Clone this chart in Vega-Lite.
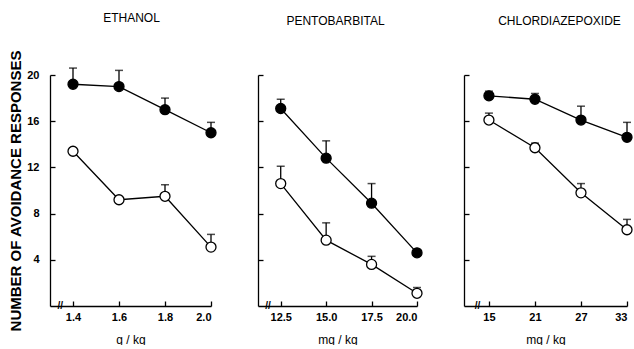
{
  "$schema": "https://vega.github.io/schema/vega-lite/v6.json",
  "padding": {"left": 8, "top": 11, "right": 0, "bottom": 0},
  "background": "white",
  "spacing": 47,
  "bounds": "flush",
  "config": {
    "view": {"stroke": null},
    "font": "Liberation Sans",
    "axis": {"domainColor": "black", "tickColor": "black", "labelColor": "black", "titleColor": "black", "grid": false, "tickSize": -5, "domainWidth": 1.3, "tickWidth": 1.3, "labelFont": "Liberation Sans", "labelFontWeight": "bold", "labelFontSize": 11, "titleFont": "Liberation Sans", "titleFontWeight": "normal"},
    "title": {"font": "Liberation Sans", "fontSize": 12, "fontWeight": "normal", "color": "black", "offset": 46, "frame": "group"}
  },
  "datasets": {
    "pts": [
      {"drug": "ETHANOL", "dose": 1.4, "group": "filled", "mean": 19.2, "err": 20.6},
      {"drug": "ETHANOL", "dose": 1.6, "group": "filled", "mean": 19.0, "err": 20.4},
      {"drug": "ETHANOL", "dose": 1.8, "group": "filled", "mean": 17.0, "err": 18.0},
      {"drug": "ETHANOL", "dose": 2.0, "group": "filled", "mean": 15.0, "err": 15.9},
      {"drug": "ETHANOL", "dose": 1.4, "group": "open", "mean": 13.4, "err": null},
      {"drug": "ETHANOL", "dose": 1.6, "group": "open", "mean": 9.2, "err": null},
      {"drug": "ETHANOL", "dose": 1.8, "group": "open", "mean": 9.5, "err": 10.5},
      {"drug": "ETHANOL", "dose": 2.0, "group": "open", "mean": 5.1, "err": 6.2},
      {"drug": "PENTOBARBITAL", "dose": 12.5, "group": "filled", "mean": 17.1, "err": 17.9},
      {"drug": "PENTOBARBITAL", "dose": 15.0, "group": "filled", "mean": 12.8, "err": 14.3},
      {"drug": "PENTOBARBITAL", "dose": 17.5, "group": "filled", "mean": 8.9, "err": 10.6},
      {"drug": "PENTOBARBITAL", "dose": 20.0, "group": "filled", "mean": 4.6, "err": null},
      {"drug": "PENTOBARBITAL", "dose": 12.5, "group": "open", "mean": 10.6, "err": 12.1},
      {"drug": "PENTOBARBITAL", "dose": 15.0, "group": "open", "mean": 5.7, "err": 7.2},
      {"drug": "PENTOBARBITAL", "dose": 17.5, "group": "open", "mean": 3.6, "err": 4.3},
      {"drug": "PENTOBARBITAL", "dose": 20.0, "group": "open", "mean": 1.1, "err": 1.6},
      {"drug": "CHLORDIAZEPOXIDE", "dose": 15, "group": "filled", "mean": 18.2, "err": 18.6},
      {"drug": "CHLORDIAZEPOXIDE", "dose": 21, "group": "filled", "mean": 17.9, "err": 18.4},
      {"drug": "CHLORDIAZEPOXIDE", "dose": 27, "group": "filled", "mean": 16.1, "err": 17.3},
      {"drug": "CHLORDIAZEPOXIDE", "dose": 33, "group": "filled", "mean": 14.6, "err": 15.9},
      {"drug": "CHLORDIAZEPOXIDE", "dose": 15, "group": "open", "mean": 16.1, "err": 16.7},
      {"drug": "CHLORDIAZEPOXIDE", "dose": 21, "group": "open", "mean": 13.7, "err": 14.1},
      {"drug": "CHLORDIAZEPOXIDE", "dose": 27, "group": "open", "mean": 9.8, "err": 10.6},
      {"drug": "CHLORDIAZEPOXIDE", "dose": 33, "group": "open", "mean": 6.6, "err": 7.5}
    ],
    "breaks": [
      {"drug": "ETHANOL", "pos": 1.345, "level": 0},
      {"drug": "PENTOBARBITAL", "pos": 11.8, "level": 0},
      {"drug": "CHLORDIAZEPOXIDE", "pos": 13.5, "level": 0}
    ]
  },
  "hconcat": [
    {
      "width": 161, "height": 231,
      "title": {"text": "ETHANOL", "dx": 1, "offset": 25},
      "layer": [
        {"data": {"name": "pts"}, "transform": [{"filter": "datum.drug === 'ETHANOL'"}],
         "mark": {"type": "line", "color": "black", "strokeWidth": 1.3},
         "encoding": {
           "x": {"field": "dose", "type": "quantitative", "scale": {"domain": [1.3, 2.0], "nice": false, "zero": false},
                 "axis": {"values": [1.4, 1.6, 1.8, 2.0], "format": ".1f", "title": "g / kg", "titleFontSize": 12, "titlePadding": 12, "labelPadding": 10}},
           "y": {"field": "mean", "type": "quantitative", "scale": {"domain": [0, 20], "nice": false},
                 "axis": {"values": [4, 8, 12, 16, 20], "title": "NUMBER OF AVOIDANCE RESPONSES", "titleFontSize": 15, "titleFontWeight": "bold", "titlePadding": 3, "labelPadding": 16}},
           "detail": {"field": "group"}
         }},
        {"data": {"name": "pts"}, "transform": [{"filter": "datum.drug === 'ETHANOL' && datum.err != null"}],
         "mark": {"type": "rule", "color": "black", "strokeWidth": 1.3},
         "encoding": {"x": {"field": "dose", "type": "quantitative"}, "y": {"field": "mean", "type": "quantitative"}, "y2": {"field": "err"}}},
        {"data": {"name": "pts"}, "transform": [{"filter": "datum.drug === 'ETHANOL' && datum.err != null"}],
         "mark": {"type": "tick", "orient": "horizontal", "color": "black", "size": 8, "thickness": 1.5},
         "encoding": {"x": {"field": "dose", "type": "quantitative"}, "y": {"field": "err", "type": "quantitative"}}},
        {"data": {"name": "pts"}, "transform": [{"filter": "datum.drug === 'ETHANOL'"}],
         "mark": {"type": "point", "shape": "circle", "size": 100, "stroke": "black", "strokeWidth": 1.3, "opacity": 1, "filled": true},
         "encoding": {"x": {"field": "dose", "type": "quantitative"}, "y": {"field": "mean", "type": "quantitative"},
           "fill": {"field": "group", "type": "nominal", "scale": {"domain": ["filled", "open"], "range": ["black", "white"]}, "legend": null}}},
        {"data": {"name": "breaks"}, "transform": [{"filter": "datum.drug === 'ETHANOL'"}],
         "mark": {"type": "text", "text": "//", "fontSize": 10, "fontWeight": "bold", "color": "black", "baseline": "middle"},
         "encoding": {"x": {"field": "pos", "type": "quantitative"}, "y": {"field": "level", "type": "quantitative"}}}
      ]
    },
    {
      "width": 159, "height": 231,
      "title": {"text": "PENTOBARBITAL", "dx": -2},
      "layer": [
        {"data": {"name": "pts"}, "transform": [{"filter": "datum.drug === 'PENTOBARBITAL'"}],
         "mark": {"type": "line", "color": "black", "strokeWidth": 1.3},
         "encoding": {
           "x": {"field": "dose", "type": "quantitative", "scale": {"domain": [11.25, 20], "nice": false, "zero": false},
                 "axis": {"values": [12.5, 15, 17.5, 20], "format": ".1f", "title": "mg / kg", "titleFontSize": 12, "titlePadding": 12, "labelPadding": 10}},
           "y": {"field": "mean", "type": "quantitative", "scale": {"domain": [0, 20], "nice": false},
                 "axis": {"values": [4, 8, 12, 16, 20], "labels": false, "title": null}},
           "detail": {"field": "group"}
         }},
        {"data": {"name": "pts"}, "transform": [{"filter": "datum.drug === 'PENTOBARBITAL' && datum.err != null"}],
         "mark": {"type": "rule", "color": "black", "strokeWidth": 1.3},
         "encoding": {"x": {"field": "dose", "type": "quantitative"}, "y": {"field": "mean", "type": "quantitative"}, "y2": {"field": "err"}}},
        {"data": {"name": "pts"}, "transform": [{"filter": "datum.drug === 'PENTOBARBITAL' && datum.err != null"}],
         "mark": {"type": "tick", "orient": "horizontal", "color": "black", "size": 8, "thickness": 1.5},
         "encoding": {"x": {"field": "dose", "type": "quantitative"}, "y": {"field": "err", "type": "quantitative"}}},
        {"data": {"name": "pts"}, "transform": [{"filter": "datum.drug === 'PENTOBARBITAL'"}],
         "mark": {"type": "point", "shape": "circle", "size": 100, "stroke": "black", "strokeWidth": 1.3, "opacity": 1, "filled": true},
         "encoding": {"x": {"field": "dose", "type": "quantitative"}, "y": {"field": "mean", "type": "quantitative"},
           "fill": {"field": "group", "type": "nominal", "scale": {"domain": ["filled", "open"], "range": ["black", "white"]}, "legend": null}}},
        {"data": {"name": "breaks"}, "transform": [{"filter": "datum.drug === 'PENTOBARBITAL'"}],
         "mark": {"type": "text", "text": "//", "fontSize": 10, "fontWeight": "bold", "color": "black", "baseline": "middle"},
         "encoding": {"x": {"field": "pos", "type": "quantitative"}, "y": {"field": "level", "type": "quantitative"}}}
      ]
    },
    {
      "width": 163, "height": 231,
      "title": {"text": "CHLORDIAZEPOXIDE", "dx": 14},
      "layer": [
        {"data": {"name": "pts"}, "transform": [{"filter": "datum.drug === 'CHLORDIAZEPOXIDE'"}],
         "mark": {"type": "line", "color": "black", "strokeWidth": 1.3},
         "encoding": {
           "x": {"field": "dose", "type": "quantitative", "scale": {"domain": [11.75, 33], "nice": false, "zero": false},
                 "axis": {"values": [15, 21, 27, 33], "title": "mg / kg", "titleFontSize": 12, "titlePadding": 12, "labelPadding": 10}},
           "y": {"field": "mean", "type": "quantitative", "scale": {"domain": [0, 20], "nice": false},
                 "axis": {"values": [4, 8, 12, 16, 20], "labels": false, "title": null}},
           "detail": {"field": "group"}
         }},
        {"data": {"name": "pts"}, "transform": [{"filter": "datum.drug === 'CHLORDIAZEPOXIDE' && datum.err != null"}],
         "mark": {"type": "rule", "color": "black", "strokeWidth": 1.3},
         "encoding": {"x": {"field": "dose", "type": "quantitative"}, "y": {"field": "mean", "type": "quantitative"}, "y2": {"field": "err"}}},
        {"data": {"name": "pts"}, "transform": [{"filter": "datum.drug === 'CHLORDIAZEPOXIDE' && datum.err != null"}],
         "mark": {"type": "tick", "orient": "horizontal", "color": "black", "size": 8, "thickness": 1.5},
         "encoding": {"x": {"field": "dose", "type": "quantitative"}, "y": {"field": "err", "type": "quantitative"}}},
        {"data": {"name": "pts"}, "transform": [{"filter": "datum.drug === 'CHLORDIAZEPOXIDE'"}],
         "mark": {"type": "point", "shape": "circle", "size": 100, "stroke": "black", "strokeWidth": 1.3, "opacity": 1, "filled": true},
         "encoding": {"x": {"field": "dose", "type": "quantitative"}, "y": {"field": "mean", "type": "quantitative"},
           "fill": {"field": "group", "type": "nominal", "scale": {"domain": ["filled", "open"], "range": ["black", "white"]}, "legend": null}}},
        {"data": {"name": "breaks"}, "transform": [{"filter": "datum.drug === 'CHLORDIAZEPOXIDE'"}],
         "mark": {"type": "text", "text": "//", "fontSize": 10, "fontWeight": "bold", "color": "black", "baseline": "middle"},
         "encoding": {"x": {"field": "pos", "type": "quantitative"}, "y": {"field": "level", "type": "quantitative"}}}
      ]
    }
  ]
}
